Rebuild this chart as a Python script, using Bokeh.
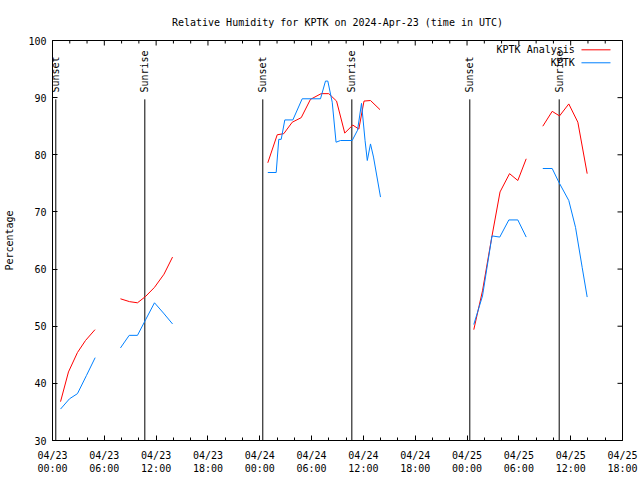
import math
from bokeh.plotting import figure
from bokeh.models import Range1d, FixedTicker
from bokeh.embed import file_html
from bokeh.resources import INLINE
from bokeh.core.properties import value

nan = float("nan")

# ---- data (hours since 2024-04-23 00:00 UTC) ----
analysis_hours = [0.93, 1.85, 2.89, 3.82, 4.92, nan,
                  7.87, 8.92, 9.84, 10.77, 11.81, 12.91, 13.90, nan,
                  24.93, 26.02, 26.78, 27.76, 28.80, 29.87, 31.11, 31.99, 32.89, 33.84,
                  34.77, 35.47, 36.07, 36.82, 37.92, nan,
                  48.78, 49.79, 50.83, 51.82, 52.92, 53.88, 54.85, nan,
                  56.77, 57.86, 58.71, 59.78, 60.83, 61.91]
analysis_rh = [36.8, 42.0, 45.4, 47.5, 49.4, nan,
               54.8, 54.3, 54.1, 55.2, 56.8, 59.1, 62.1, nan,
               78.6, 83.5, 83.7, 85.7, 86.5, 89.7, 90.7, 90.7, 89.4, 83.8,
               85.2, 84.5, 89.4, 89.5, 87.9, nan,
               49.4, 56.2, 65.3, 73.5, 76.7, 75.5, 79.3, nan,
               85.0, 87.6, 86.8, 88.9, 85.7, 76.7]

obs_hours = [0.93, 1.97, 2.89, 3.94, 4.94, nan,
             7.87, 8.88, 9.84, 10.77, 11.81, 12.85, 13.90, nan,
             24.93, 25.90, 26.20, 26.48, 26.90, 27.83, 28.91, 31.03, 31.61, 31.88,
             32.39, 32.83, 33.35, 34.70, 35.32, 35.78, 36.19, 36.45, 36.82, 37.17, 37.98, nan,
             48.78, 49.79, 50.89, 51.79, 52.84, 53.88, 54.85, nan,
             56.77, 57.86, 58.63, 59.78, 60.56, 61.33, 61.91]
obs_rh = [35.5, 37.3, 38.2, 41.4, 44.5, nan,
          46.2, 48.4, 48.4, 51.1, 54.1, 52.3, 50.4, nan,
          76.9, 76.9, 82.7, 82.7, 86.1, 86.1, 89.8, 89.8, 92.9, 92.9,
          89.2, 82.2, 82.5, 82.5, 84.3, 89.0, 82.5, 79.0, 81.9, 79.6, 72.6, nan,
          50.3, 55.3, 65.8, 65.6, 68.6, 68.6, 65.6, nan,
          77.6, 77.6, 75.2, 72.0, 67.3, 60.3, 55.1]

event_hours = [0.38, 10.69, 24.35, 34.66, 48.32, 58.67]
event_names = ["Sunset", "Sunrise", "Sunset", "Sunrise", "Sunset", "Sunrise"]

x_major = [0, 6, 12, 18, 24, 30, 36, 42, 48, 54, 60, 66]
x_labels = ["04/23\n00:00", "04/23\n06:00", "04/23\n12:00", "04/23\n18:00",
            "04/24\n00:00", "04/24\n06:00", "04/24\n12:00", "04/24\n18:00",
            "04/25\n00:00", "04/25\n06:00", "04/25\n12:00", "04/25\n18:00"]
x_minor = [h for h in range(0, 67, 2) if h % 6 != 0]
y_major = [30, 40, 50, 60, 70, 80, 90, 100]

series_names = ["KPTK Analysis", "KPTK"]
series_colors = ["#ff0000", "#0080ff"]
title_text = "Relative Humidity for KPTK on 2024-Apr-23 (time in UTC)"

X_MIN, X_MAX = 0, 66
Y_MIN, Y_MAX = 30, 100

FONT = "DejaVu Sans Mono"
FS = "10px"

p = figure(width=640, height=480, output_backend="svg", toolbar_location=None,
           x_range=Range1d(X_MIN, X_MAX), y_range=Range1d(Y_MIN, Y_MAX),
           min_border_left=52, min_border_right=18, min_border_top=40, min_border_bottom=40,
           background_fill_color="white", border_fill_color="white")

p.title.text = title_text
p.title.align = "center"
p.title.text_font = FONT
p.title.text_font_size = FS
p.title.text_font_style = "normal"
p.title.text_color = "black"
p.title.standoff = 26

p.grid.visible = False
p.outline_line_color = "black"
p.outline_line_alpha = 1.0

def style_axis(ax):
    ax.axis_line_color = "black"
    ax.major_tick_line_color = "black"
    ax.minor_tick_line_color = "black"
    ax.major_tick_in = 5
    ax.major_tick_out = 0
    ax.minor_tick_in = 3
    ax.minor_tick_out = 0
    ax.major_label_text_font = FONT
    ax.major_label_text_color = "black"
    ax.major_label_text_font_size = FS

xa = p.xaxis[0]
xa.ticker = FixedTicker(ticks=x_major, minor_ticks=x_minor)
xa.major_label_overrides = {k: v for k, v in zip(x_major, x_labels)}
style_axis(xa)
xa.major_label_standoff = 9

ya = p.yaxis[0]
ya.ticker = FixedTicker(ticks=y_major, minor_ticks=[])
style_axis(ya)
ya.major_label_standoff = 6
ya.axis_label = "Percentage"
ya.axis_label_text_font = FONT
ya.axis_label_text_font_size = FS
ya.axis_label_text_font_style = "normal"
ya.axis_label_text_color = "black"
ya.axis_label_standoff = 10

# mirrored ticks on the top and right borders (clipped to the frame -> inward)
p.scatter(x=x_major, y=[Y_MAX] * len(x_major), marker="dash", angle=math.pi / 2,
          size=10, line_color="black", line_width=1)
p.scatter(x=x_minor, y=[Y_MAX] * len(x_minor), marker="dash", angle=math.pi / 2,
          size=6, line_color="black", line_width=1)
p.scatter(x=[X_MAX] * len(y_major), y=y_major, marker="dash",
          size=10, line_color="black", line_width=1)

# sunrise / sunset markers
p.segment(x0=event_hours, y0=[Y_MIN] * len(event_hours), x1=event_hours,
          y1=[89.7] * len(event_hours), line_color="black", line_width=1)
p.text(x=event_hours, y=[90.9] * len(event_hours), text=event_names,
       angle=math.pi / 2, text_align="left", text_baseline="middle",
       text_font=value(FONT), text_font_size=FS, text_color="black")

p.line(analysis_hours, analysis_rh, line_color=series_colors[0], line_width=1)
p.line(obs_hours, obs_rh, line_color=series_colors[1], line_width=1)

# legend (text then sample line, as in gnuplot)
leg_y = [98.37, 96.1]
p.text(x=[60.48, 60.48], y=leg_y, text=series_names, text_align="right",
       text_baseline="middle", text_font=value(FONT), text_font_size=FS,
       text_color="black")
p.segment(x0=[61.25, 61.25], y0=leg_y, x1=[64.61, 64.61], y1=leg_y,
          line_color=series_colors, line_width=1)

open("out.html", "w").write(file_html(p, INLINE))
